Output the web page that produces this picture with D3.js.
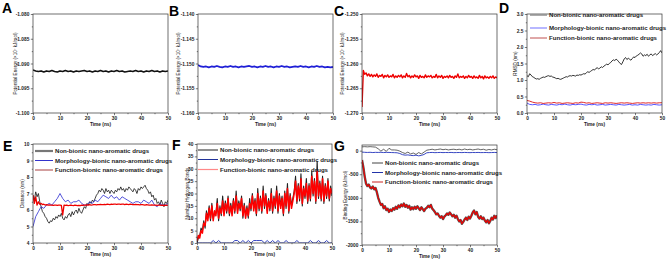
<!DOCTYPE html>
<html>
<head>
<meta charset="utf-8">
<script src="https://cdn.jsdelivr.net/npm/d3@7"></script>
<style>
body { margin: 0; background: #fff; }
svg { display: block; }
</style>
</head>
<body>
<div id="wrapper"></div>
<script>
// legend labels shared by D-G
const seriesNames = ["Non-bionic nano-aromatic drugs", "Morphology-bionic nano-aromatic drugs", "Function-bionic nano-aromatic drugs"];
const timeTicks = [0, 10, 20, 30, 40, 50];

// A-C potential energy (x10^7 kJ/mol), sampled every 1 ns / 0.5 ns
const energyA = [-1.0913,-1.0915,-1.0916,-1.0915,-1.0917,-1.0915,-1.0916,-1.0914,-1.0916,-1.0917,
  -1.0915,-1.0916,-1.0914,-1.0916,-1.0915,-1.0917,-1.0915,-1.0916,-1.0915,-1.0914,
  -1.0916,-1.0915,-1.0917,-1.0915,-1.0916,-1.0914,-1.0916,-1.0915,-1.0917,-1.0915,
  -1.0916,-1.0914,-1.0916,-1.0915,-1.0917,-1.0916,-1.0915,-1.0916,-1.0914,-1.0916,
  -1.0915,-1.0917,-1.0915,-1.0916,-1.0914,-1.0916,-1.0915,-1.0917,-1.0915,-1.0916,-1.0915];
const energyB = [-1.1503,-1.1506,-1.1507,-1.1506,-1.1508,-1.1506,-1.1507,-1.1505,-1.1507,-1.1508,
  -1.1506,-1.1507,-1.1505,-1.1507,-1.1506,-1.1508,-1.1506,-1.1507,-1.1506,-1.1505,
  -1.1507,-1.1506,-1.1508,-1.1506,-1.1507,-1.1505,-1.1507,-1.1506,-1.1508,-1.1506,
  -1.1507,-1.1505,-1.1507,-1.1506,-1.1508,-1.1507,-1.1506,-1.1507,-1.1505,-1.1507,
  -1.1506,-1.1508,-1.1506,-1.1507,-1.1505,-1.1507,-1.1506,-1.1508,-1.1507,-1.1508,-1.1507];
const energyC = [-1.2688,-1.2614,-1.2622,-1.2619,-1.2625,-1.2621,-1.2626,-1.2622,-1.2627,-1.2623,
  -1.2626,-1.2621,-1.2628,-1.2624,-1.2626,-1.2622,-1.2629,-1.2624,-1.2627,-1.2623,
  -1.2628,-1.2625,-1.2627,-1.2622,-1.2629,-1.2625,-1.2628,-1.2624,-1.2627,-1.2623,
  -1.2629,-1.2625,-1.2628,-1.2620,-1.2627,-1.2624,-1.2629,-1.2625,-1.2628,-1.2623,
  -1.2627,-1.2625,-1.2630,-1.2624,-1.2628,-1.2626,-1.2629,-1.2623,-1.2628,-1.2625,
  -1.2627,-1.2624,-1.2629,-1.2626,-1.2628,-1.2622,-1.2629,-1.2625,-1.2628,-1.2624,
  -1.2630,-1.2626,-1.2628,-1.2625,-1.2629,-1.2624,-1.2628,-1.2626,-1.2630,-1.2625,
  -1.2628,-1.2621,-1.2629,-1.2626,-1.2628,-1.2625,-1.2630,-1.2626,-1.2629,-1.2624,
  -1.2628,-1.2626,-1.2630,-1.2625,-1.2629,-1.2627,-1.2630,-1.2624,-1.2629,-1.2626,
  -1.2631,-1.2625,-1.2629,-1.2627,-1.2630,-1.2626,-1.2629,-1.2625,-1.2630,-1.2627,-1.2629];

// D RMSD (nm)
const rmsdNon = [1.13,1.10,1.19,1.15,1.10,1.08,1.05,1.03,1.04,1.02,1.05,1.07,1.09,1.08,1.10,1.12,1.13,1.11,1.12,1.09,
  1.08,1.06,1.04,1.05,1.03,1.02,1.04,1.06,1.08,1.10,1.09,1.12,1.13,1.12,1.14,1.13,1.12,1.15,1.14,1.16,
  1.15,1.17,1.19,1.18,1.22,1.25,1.23,1.26,1.29,1.32,1.30,1.35,1.37,1.34,1.36,1.40,1.38,1.42,1.45,1.48,
  1.46,1.50,1.53,1.58,1.61,1.59,1.63,1.60,1.55,1.50,1.47,1.55,1.64,1.68,1.62,1.66,1.63,1.60,1.65,1.70,
  1.68,1.73,1.75,1.78,1.82,1.79,1.72,1.76,1.74,1.78,1.72,1.76,1.79,1.74,1.77,1.80,1.76,1.79,1.83,1.89,1.82];
const rmsdMorph = [0.30,0.26,0.25,0.26,0.24,0.25,0.27,0.25,0.24,0.26,
  0.25,0.24,0.26,0.25,0.27,0.25,0.24,0.26,0.25,0.26,
  0.27,0.25,0.24,0.26,0.25,0.26,0.24,0.25,0.26,0.24,
  0.25,0.26,0.25,0.24,0.26,0.25,0.24,0.25,0.26,0.24,
  0.25,0.24,0.26,0.25,0.24,0.25,0.24,0.26,0.25,0.24,0.25];
const rmsdFunc = [0.38,0.36,0.33,0.31,0.30,0.31,0.29,0.30,0.31,0.30,
  0.32,0.30,0.31,0.29,0.30,0.31,0.30,0.29,0.31,0.30,
  0.33,0.32,0.30,0.31,0.29,0.30,0.31,0.30,0.29,0.31,
  0.30,0.31,0.30,0.29,0.30,0.31,0.30,0.31,0.30,0.29,
  0.30,0.31,0.30,0.31,0.30,0.31,0.30,0.31,0.30,0.31,0.31];

// E distance (nm)
const distNon = [6.9,6.6,7.1,6.8,7.0,6.5,6.2,5.9,5.8,5.6,5.5,5.3,5.2,5.35,5.3,5.5,5.4,5.6,5.5,5.7,
  5.6,5.8,5.5,5.4,5.6,5.5,5.7,5.8,5.6,5.9,5.7,5.9,6.0,5.8,6.1,5.9,5.8,6.0,6.2,6.1,
  6.4,6.3,6.5,6.4,6.6,6.5,6.7,6.9,7.0,7.2,7.1,7.3,7.2,7.0,7.3,7.1,7.2,7.0,7.2,7.1,
  7.0,7.2,7.1,7.3,7.2,7.4,7.2,7.3,7.1,7.3,7.2,7.4,7.3,7.2,7.1,7.3,7.2,7.0,7.3,7.2,
  7.4,7.3,7.4,7.5,7.3,7.2,7.0,7.1,6.8,6.9,6.6,6.7,6.4,6.5,6.3,6.6,6.4,6.2,6.5,6.4,6.6];
const distMorph = [5.0,5.6,5.9,6.2,6.1,6.3,6.4,6.3,6.5,6.7,
  7.0,6.7,6.5,6.6,6.4,6.5,6.5,6.6,6.4,6.3,
  6.3,6.5,6.4,6.6,6.5,6.7,6.9,6.8,6.7,6.9,
  6.7,6.8,6.6,6.8,6.7,6.6,6.5,6.4,6.5,6.5,
  6.4,6.6,6.5,6.4,6.6,6.3,6.2,6.4,6.3,6.3,6.4];
const distFunc = [6.9,6.4,6.8,6.3,6.5,6.35,6.4,6.33,6.35,6.3,
  6.32,6.3,6.31,6.29,6.3,6.28,6.3,6.29,6.28,6.3,
  6.29,6.28,5.7,6.3,6.28,6.29,6.27,6.28,6.3,6.28,
  6.27,6.29,6.28,6.26,6.28,6.27,6.29,6.28,6.3,6.29,
  6.31,6.3,6.32,6.3,6.31,6.33,6.32,6.31,6.33,6.32,
  6.34,6.33,6.32,6.34,6.33,6.35,6.34,6.33,6.35,6.34,
  6.36,6.35,6.34,6.36,6.35,6.34,6.36,6.35,6.33,6.35,
  6.34,6.33,6.35,6.34,6.33,6.32,6.34,6.33,6.32,6.31,
  6.33,6.32,6.31,6.30,6.32,6.31,6.30,6.29,6.31,6.30,
  6.29,6.30,6.28,6.29,6.30,6.28,6.29,6.27,6.29,6.28,6.29];

// F number of hydrogen bonds
const hbNon = [0,2,3,6,5,9,6,13,10,15,9,16,10,12,12,18,9,15,11,19,
  12,17,12,19,11,16,12,18,12,21,13,17,13,19,10,16,11,15,10,18,
  13,20,14,18,11,22,13,19,12,23,14,20,13,18,13,22,12,19,14,23,
  12,20,15,19,11,21,14,24,12,20,15,18,21,27,16,24,17,28,15,23,
  18,26,16,24,17,29,19,26,16,33,18,25,17,27,16,24,18,26,17,23,19];
const hbMorph = [0,0,0,0,0,0,1,0,1,0, 0,0,0,0,1,1,0,1,0,1, 0,1,1,1,1,0,1,0,1,0,
  1,0,0,1,0,0,0,1,0,0, 0,0,1,0,0,1,0,0,1,0, 0];
const hbFunc = [1,3,2,5,4,8,7,12,9,14,10,15,9,13,11,16,10,14,12,17,
  11,16,13,18,12,15,11,17,13,19,12,16,14,18,11,15,10,14,11,16,
  14,19,13,17,12,20,14,18,13,21,15,19,12,17,14,20,13,18,15,21,
  13,19,14,18,12,20,15,22,13,19,14,17,20,25,17,23,18,26,16,22,
  19,24,17,23,18,27,20,25,17,29,19,24,18,26,17,23,19,25,18,22,20];

// G binding energy (kJ/mol)
const bindNon = [80,85,80,85,80,75,40,-10,30,-15,50,
  15,15,10,-10,-40,-60,-30,-70,-50,-80,
  -40,-70,-30,10,20,30,15,25,35,20,
  30,15,25,30,20,30,15,35,20,30,
  15,25,35,20,30,10,25,15,30,20];
const bindMorph = [-30,-35,-38,-35,-40,-36,-38,-35,-40,-37,
  -38,-40,-42,-45,-60,-85,-95,-90,-100,-105,
  -95,-110,-100,-80,-45,-40,-38,-42,-40,-38,
  -41,-39,-40,-38,-42,-40,-39,-41,-38,-40,
  -42,-39,-40,-38,-41,-40,-39,-42,-40,-38,-40];
const bindFunc = [-200,-350,-550,-700,-750,-720,-780,-800,-760,-820,-790,
  -880,-1000,-1080,-1150,-1130,-1220,-1180,-1260,-1230,-1300,
  -1250,-1280,-1220,-1250,-1190,-1230,-1160,-1200,-1140,-1180,
  -1120,-1190,-1150,-1210,-1170,-1250,-1200,-1240,-1190,-1230,
  -1180,-1220,-1260,-1200,-1240,-1280,-1230,-1210,-1170,-1200,-1150,-1230,
  -1260,-1300,-1350,-1330,-1380,-1420,-1390,-1450,-1400,-1370,-1330,-1360,
  -1310,-1350,-1390,-1360,-1420,-1380,-1450,-1500,-1470,-1550,-1510,-1460,
  -1420,-1470,-1400,-1440,-1380,-1310,-1270,-1350,-1300,-1400,-1440,-1390,
  -1450,-1420,-1480,-1520,-1470,-1540,-1490,-1420,-1460,-1380,-1430,-1370];

const W = 669, H = 261;
const svg = d3.select("#wrapper").append("svg")
  .attr("width", W).attr("height", H)
  .style("font-family", "'Liberation Sans', Arial, sans-serif");

const fixed3 = d => d.toFixed(3);
const fixed1 = d => d.toFixed(1);
const plain = d => String(d);
const energyTitle = "Potential Energy (\u00d710\u2077 kJ/mol)";

const panels = [
  {letter: "A", lx: 2, ly: 13, box: [33, 14, 168, 113], yDomain: [-1.100, -1.080],
   yTicks: [-1.100, -1.095, -1.090, -1.085, -1.080], fmt: fixed3, title: energyTitle, titleOff: 18,
   series: [{v: energyA, c: "#111", w: 1.6}]},
  {letter: "B", lx: 169, ly: 16, box: [198, 14, 333, 113], yDomain: [-1.160, -1.140],
   yTicks: [-1.160, -1.155, -1.150, -1.145, -1.140], fmt: fixed3, title: energyTitle, titleOff: 20,
   series: [{v: energyB, c: "#1f1fd6", w: 1.8}]},
  {letter: "C", lx: 334, ly: 16, box: [362, 14, 497, 113], yDomain: [-1.270, -1.250],
   yTicks: [-1.270, -1.265, -1.260, -1.255, -1.250], fmt: fixed3, title: energyTitle, titleOff: 20,
   series: [{v: energyC, c: "#ee0000", w: 1.4}]},
  {letter: "D", lx: 499, ly: 13, box: [527, 14, 662, 113], yDomain: [0, 3],
   yTicks: [0, 0.5, 1, 1.5, 2, 2.5, 3], fmt: fixed1, title: "RMSD (nm)", titleOff: 12,
   series: [{v: rmsdMorph, c: "#2a2aff", w: 0.8}, {v: rmsdFunc, c: "#dd1111", w: 0.9}, {v: rmsdNon, c: "#000", w: 0.8}],
   legend: {x0: 530, x1: 547, ys: [15, 28, 38], colors: ["#888", "#9999ff", "#c05050"], widths: [1.4, 1.4, 1]}},
  {letter: "E", lx: 3, ly: 151, box: [33, 144, 168, 243], yDomain: [4, 10],
   yTicks: [4, 5, 6, 7, 8, 9, 10], fmt: plain, title: "Distance (nm)", titleOff: 11,
   series: [{v: distNon, c: "#111", w: 0.8}, {v: distMorph, c: "#2a2ad0", w: 0.8}, {v: distFunc, c: "#ee0000", w: 1.3}],
   legend: {x0: 35, x1: 53, ys: [151, 160.5, 170], colors: ["#777", "#3333cc", "#a84040"], widths: [2.2, 1, 1]}},
  {letter: "F", lx: 172, ly: 150, box: [197, 144, 332, 243], yDomain: [0, 40],
   yTicks: [0, 5, 10, 15, 20, 25, 30, 35, 40], fmt: plain, title: "Number Hydrogen Bonds", titleOff: 10,
   series: [{v: hbNon, c: "#222", w: 1.1}, {v: hbMorph, c: "#2233bb", w: 0.9}, {v: hbFunc, c: "#ff0000", w: 1.5}],
   legend: {x0: 198, x1: 218, ys: [150, 159.5, 169.5], colors: ["#222", "#223399", "#ff8888"], widths: [1, 1, 1.2]}},
  {letter: "G", lx: 334, ly: 151, box: [362, 145, 497, 245], yDomain: [-2000, 120],
   yTicks: [-2000, -1500, -1000, -500, 0], fmt: plain, title: "Binding Energy (kJ/mol)", titleOff: 17,
   series: [{v: bindFunc, c: "#555", w: 2.4}, {v: bindFunc, c: "#ee0000", w: 1.2}, {v: bindMorph, c: "#2233bb", w: 0.9}, {v: bindNon, c: "#222", w: 0.7}],
   legend: {x0: 372, x1: 383, ys: [163, 172.5, 182], colors: ["#444", "#2233aa", "#cc2222"], widths: [1, 1, 1]}}
];

function withTime(values) {
  return values.map((v, i) => [i * 50 / (values.length - 1), v]);
}

function drawPanel(p) {
  const [x0, y0, x1, y1] = p.box;
  const x = d3.scaleLinear().domain([0, 50]).range([x0, x1]);
  const y = d3.scaleLinear().domain(p.yDomain).range([y1, y0]);
  const g = svg.append("g");

  const clipId = "clip" + p.letter;
  svg.append("clipPath").attr("id", clipId)
    .append("rect").attr("x", x0).attr("y", y0).attr("width", x1 - x0).attr("height", y1 - y0);

  const line = d3.line().x(d => x(d[0])).y(d => y(d[1]));
  p.series.forEach(s => {
    g.append("path")
      .datum(withTime(s.v))
      .attr("d", line)
      .attr("fill", "none")
      .attr("stroke", s.c)
      .attr("stroke-width", s.w)
      .attr("stroke-linejoin", "round")
      .attr("clip-path", `url(#${clipId})`);
  });

  // minor ticks
  const xMinor = d3.range(5, 50, 10);
  const yStep = p.yTicks[1] - p.yTicks[0];
  const yMinor = p.yTicks.slice(0, -1).map(t => t + yStep / 2);
  g.append("g").attr("transform", `translate(0,${y1})`)
    .call(d3.axisBottom(x).tickValues(xMinor).tickSize(1.2).tickFormat(""));
  g.append("g").attr("transform", `translate(${x0},0)`)
    .call(d3.axisLeft(y).tickValues(yMinor).tickSize(1.2).tickFormat(""));

  // major ticks
  g.append("g").attr("transform", `translate(0,${y1})`)
    .call(d3.axisBottom(x).tickValues(timeTicks).tickSize(2.2).tickPadding(1.2).tickFormat(plain));
  g.append("g").attr("transform", `translate(${x0},0)`)
    .call(d3.axisLeft(y).tickValues(p.yTicks).tickSize(2.2).tickPadding(1.5).tickFormat(p.fmt));

  g.selectAll(".domain").remove();
  g.selectAll(".tick line").attr("stroke", "#222").attr("stroke-width", 0.6);
  g.selectAll(".tick text").attr("font-size", 4.8).attr("font-weight", "bold").attr("fill", "#222")
    .attr("font-family", "'Liberation Sans', Arial, sans-serif");

  // frame
  g.append("rect").attr("x", x0).attr("y", y0).attr("width", x1 - x0).attr("height", y1 - y0)
    .attr("fill", "none").attr("stroke", "#333").attr("stroke-width", 0.7);

  // titles
  g.append("text").attr("x", (x0 + x1) / 2).attr("y", y1 + 12.5)
    .attr("text-anchor", "middle").attr("font-size", 4.8).attr("font-weight", "bold").attr("fill", "#222")
    .text("Time (ns)");
  g.append("text")
    .attr("transform", `translate(${x0 - p.titleOff},${(y0 + y1) / 2}) rotate(-90)`)
    .attr("text-anchor", "middle").attr("dy", "0.35em").attr("font-size", 4.6).attr("fill", "#222")
    .text(p.title);

  g.append("text").attr("x", p.lx).attr("y", p.ly)
    .attr("font-size", 14).attr("font-weight", "bold").attr("fill", "#000")
    .text(p.letter);

  if (p.legend) {
    const L = p.legend;
    seriesNames.forEach((name, i) => {
      g.append("line").attr("x1", L.x0).attr("x2", L.x1).attr("y1", L.ys[i]).attr("y2", L.ys[i])
        .attr("stroke", L.colors[i]).attr("stroke-width", L.widths[i]);
      g.append("text").attr("x", L.x1 + 2).attr("y", L.ys[i]).attr("dy", "0.35em")
        .attr("font-size", 6.1).attr("font-weight", "bold").attr("fill", "#222")
        .text(name);
    });
  }
}

panels.forEach(drawPanel);
</script>
</body>
</html>
